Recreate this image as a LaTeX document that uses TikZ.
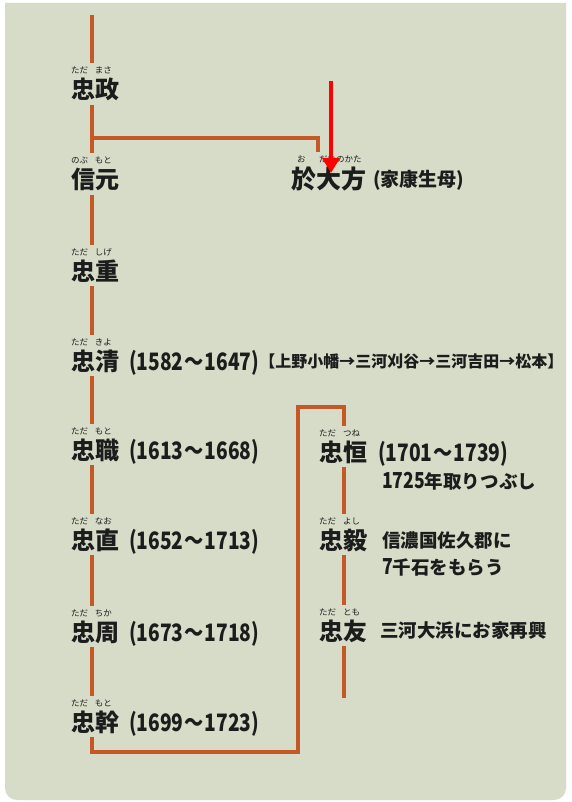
\documentclass[tikz,border=0pt]{standalone}
\usepackage{fontspec}
\setmainfont{Noto Sans CJK JP}
\newfontfamily\dnum[FakeStretch=0.8]{Noto Sans CJK JP}
\usetikzlibrary{arrows.meta}
\definecolor{bg}{RGB}{214,220,200}
\definecolor{ln}{RGB}{196,88,38}
\definecolor{tx}{RGB}{28,28,28}
\newcommand\rbx[2]{\makebox[24pt][l]{#1}#2}
\newcommand\yrs[2]{{\dnum(#1\kern1pt〜\kern1pt#2)}}
\tikzset{
  nm/.style={anchor=west, inner sep=0pt, outer sep=0pt, text height=20pt, text depth=2pt,
             font=\fontsize{24}{26}\selectfont\bfseries, text=tx},
  rb/.style={anchor=west, inner sep=0pt, outer sep=0pt, text height=6.5pt, text depth=0.5pt,
             font=\fontsize{8.5}{9}\selectfont, text=tx},
  dt/.style={anchor=west, inner sep=0pt, outer sep=0pt, text height=20pt, text depth=2pt,
             font=\fontsize{24}{26}\selectfont\bfseries, text=tx},
  nt/.style={anchor=west, inner sep=0pt, outer sep=0pt, text height=15pt, text depth=1.5pt,
             font=\fontsize{18.5}{20}\selectfont\bfseries, text=tx},
  lk/.style={draw=ln, line width=3.1pt, shorten <=4pt, shorten >=4pt},
  lkf/.style={draw=ln, line width=3.1pt},
}
\begin{document}
\begin{tikzpicture}[x=1pt, y=-1pt]
\useasboundingbox (0,0) rectangle (571,802);
\fill[white] (0,0) rectangle (571,802);
\fill[bg] (5,3) -- (566,3) [rounded corners=12pt] -- (566,800) -- (5,800) [sharp corners] -- cycle;

\coordinate (L) at (92,0);
\coordinate (R) at (344,0);
\coordinate (M) at (318,0);

% left column
\node[nm] (zm) at (71,90) {忠政};
\node[rb] (zmr) at ([yshift=19pt]zm.west) {\rbx{ただ}{まさ}};
\node[nm] (nm) at (71,180) {信元};
\node[rb] (nmr) at ([yshift=19pt]nm.west) {\rbx{のぶ}{もと}};
\node[nm] (zj) at (71,271) {忠重};
\node[rb] (zjr) at ([yshift=19pt]zj.west) {\rbx{ただ}{しげ}};
\node[nm] (zs) at (71,361) {忠清};
\node[rb] (zsr) at ([yshift=19pt]zs.west) {\rbx{ただ}{きよ}};
\node[dt] (zsd) at ([xshift=10pt]zs.east) {\yrs{1582}{1647}};
\node[anchor=west, inner sep=0pt, font=\fontsize{16}{17}\selectfont\bfseries, text=tx] (zsm) at ([xshift=0pt]zsd.east) {【上野小幡→三河刈谷→三河吉田→松本】};
\node[nm] (zk1) at (71,450) {忠職};
\node[rb] (zk1r) at ([yshift=19pt]zk1.west) {\rbx{ただ}{もと}};
\node[dt] (zk1d) at ([xshift=10pt]zk1.east) {\yrs{1613}{1668}};
\node[nm] (zn) at (71,540) {忠直};
\node[rb] (znr) at ([yshift=19pt]zn.west) {\rbx{ただ}{なお}};
\node[dt] (znd) at ([xshift=10pt]zn.east) {\yrs{1652}{1713}};
\node[nm] (zc) at (71,632) {忠周};
\node[rb] (zcr) at ([yshift=19pt]zc.west) {\rbx{ただ}{ちか}};
\node[dt] (zcd) at ([xshift=10pt]zc.east) {\yrs{1673}{1718}};
\node[nm] (zk) at (71,722) {忠幹};
\node[rb] (zkr) at ([yshift=19pt]zk.west) {\rbx{ただ}{もと}};
\node[dt] (zkd) at ([xshift=10pt]zk.east) {\yrs{1699}{1723}};

% odai no kata
\node[nm, font=\fontsize{25}{27}\selectfont\bfseries] (od) at (291,180) {於大方};
\node[rb] (odr) at ([yshift=20pt]od.west) {\makebox[25pt][l]{\hspace{6pt}お}\makebox[20pt][l]{\hspace{3pt}だい}のかた};
\node[anchor=west, inner sep=0pt, font=\fontsize{19}{21}\selectfont\bfseries, text=tx] (odn) at ([xshift=7pt]od.east) {(家康生母)};

% right column
\node[nm] (zt) at (319,452) {忠恒};
\node[rb] (ztr) at ([yshift=19pt]zt.west) {\rbx{ただ}{つね}};
\node[dt] (ztd) at ([xshift=11pt]zt.east) {\yrs{1701}{1739}};
\node[nt] (ztn) at (382,482) {{\dnum\fontsize{22}{23}\selectfont 1725}年取りつぶし};
\node[nm] (zy) at (319,540) {忠毅};
\node[rb] (zyr) at ([yshift=19pt]zy.west) {\rbx{ただ}{よし}};
\node[nt] (zyn1) at (382,541) {信濃国佐久郡に};
\node[nt] (zyn2) at (382,568) {{\dnum\fontsize{22}{23}\selectfont 7}千石をもらう};
\node[nm] (ztm) at (319,631) {忠友};
\node[rb] (ztmr) at ([yshift=19pt]ztm.west) {\rbx{ただ}{とも}};
\node[nt] (ztmn) at (380,631) {三河大浜にお家再興};

% connectors
\coordinate (top) at (92,15);
\coordinate (br) at (92,138);
\coordinate (bl) at (92,752);
\coordinate (bR) at (298,752);
\coordinate (tR) at (298,407);
\coordinate (tr) at (344,407);
\coordinate (rend) at (344,698);

\draw[lkf, shorten >=4pt] (top) -- (L |- zmr.north);
\draw[lk] (L |- zm.south) -- (L |- nmr.north);
\draw[lkf, shorten >=4pt] (br) -| (M |- odr.north);
\draw[lk] (L |- nm.south) -- (L |- zjr.north);
\draw[lk] (L |- zj.south) -- (L |- zsr.north);
\draw[lk] (L |- zs.south) -- (L |- zk1r.north);
\draw[lk] (L |- zk1.south) -- (L |- znr.north);
\draw[lk] (L |- zn.south) -- (L |- zcr.north);
\draw[lk] (L |- zc.south) -- (L |- zkr.north);
\draw[lk] (L |- zk.south) -- (bl) -- (bR) -- (tR) -- (tr) -- (R |- ztr.north);
\draw[lk] (R |- zt.south) -- (R |- zyr.north);
\draw[lk] (R |- zy.south) -- (R |- ztmr.north);
\draw[lkf, shorten <=4pt] (R |- ztm.south) -- (rend);

% red arrow
\coordinate (ra) at (331,81);
\coordinate (rb) at (331,173);
\draw[red, line width=3.6pt, -{Triangle[width=17pt,length=15pt]}] (ra) -- (rb);
\end{tikzpicture}
\end{document}
